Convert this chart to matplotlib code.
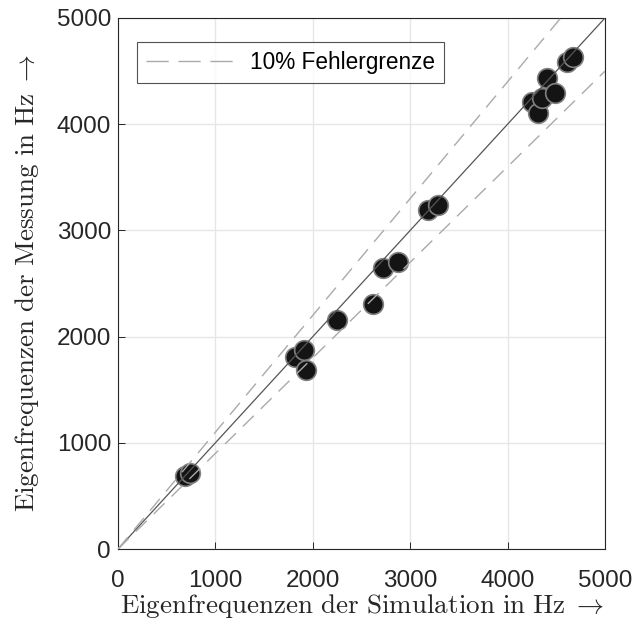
import matplotlib
matplotlib.use("Agg")
import matplotlib.pyplot as plt
from matplotlib.lines import Line2D
import numpy as np

sim = [690, 740, 1817, 1910, 1930, 2248, 2618, 2721, 2875, 3183, 3285,
       4250, 4312, 4353, 4405, 4487, 4610, 4671]
meas = [690, 720, 1808, 1874, 1686, 2156, 2307, 2646, 2702, 3192, 3239,
        4209, 4105, 4247, 4435, 4294, 4586, 4633]
ticks = [0, 1000, 2000, 3000, 4000, 5000]
lim = [0, 5000]

plt.rcParams['mathtext.fontset'] = 'cm'
plt.rcParams['font.family'] = ['Liberation Sans', 'DejaVu Sans']

fig = plt.figure(figsize=(6.43, 6.25), dpi=100)
ax = fig.add_axes([0.1835, 0.1216, 0.7574, 0.8496])

ax.scatter(sim, meas, s=200, c='#141414', edgecolors='#808080', linewidths=1.2, zorder=2)
lx = np.array(lim, dtype=float)
ax.plot(lx, lx, color='#555555', lw=0.9, zorder=3)
ax.plot(lx, 1.1 * lx, color='#aaaaaa', lw=1.0, ls=(0, (11, 7)), zorder=3)
ax.plot(lx, 0.9 * lx, color='#aaaaaa', lw=1.0, ls=(0, (11, 7)), zorder=3)

ax.set_xlim(lim)
ax.set_ylim(lim)
ax.set_xticks(ticks)
ax.set_yticks(ticks)
ax.tick_params(direction='in', labelsize=17.5, colors='#262626', length=5,
               width=0.7, pad=5)
ax.tick_params(axis='x', pad=15)
ax.grid(True, color='#e6e6e6', lw=1.0)
ax.set_axisbelow(True)
for s in ax.spines.values():
    s.set_color('#262626')
    s.set_linewidth(0.8)

ax.set_xlabel(r'$\mathrm{Eigenfrequenzen\ der\ Simulation\ in\ Hz}\;\rightarrow$',
              fontsize=19.5, color='#262626', labelpad=0)
ax.set_ylabel(r'$\mathrm{Eigenfrequenzen\ der\ Messung\ in\ Hz}\;\rightarrow$',
              fontsize=19.5, color='#262626', labelpad=11)

handle = Line2D([0], [0], color='#aaaaaa', lw=1.0, ls=(0, (16, 7)))
leg = ax.legend([handle], ['10% Fehlergrenze'], loc='upper left', fontsize=16.3,
                frameon=True, fancybox=False, edgecolor='#262626',
                handlelength=4.2, handletextpad=0.4, borderpad=0.4,
                borderaxespad=0, bbox_to_anchor=(0.039, 0.955))
leg.get_frame().set_linewidth(0.8)

fig.savefig('out.png', dpi=100)
